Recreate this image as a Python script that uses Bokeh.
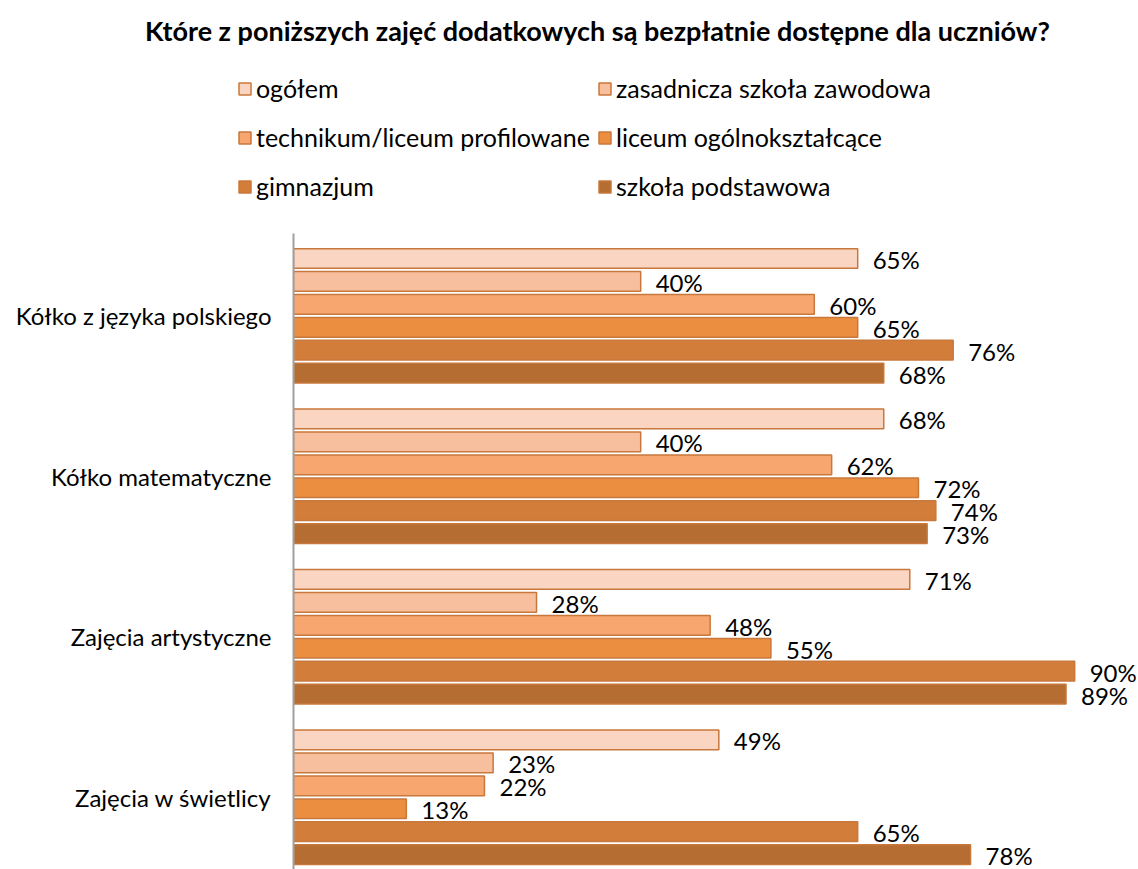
from bokeh.plotting import figure
from bokeh.models import ColumnDataSource, Range1d, FixedTicker, Legend, LegendItem, Label
from bokeh.layouts import column
from bokeh.embed import file_html
from bokeh.resources import INLINE

title = "Które z poniższych zajęć dodatkowych są bezpłatnie dostępne dla uczniów?"
categories = ["Kółko z języka polskiego", "Kółko matematyczne", "Zajęcia artystyczne", "Zajęcia w świetlicy"]
series = ["ogółem", "zasadnicza szkoła zawodowa", "technikum/liceum profilowane",
          "liceum ogólnokształcące", "gimnazjum", "szkoła podstawowa"]
colors = ["#F9D5C2", "#F8BF9F", "#F7A66F", "#EB8E40", "#D27D3A", "#B56D31"]

ogolem = [65, 68, 71, 49]
zasadnicza = [40, 40, 28, 23]
technikum = [60, 62, 48, 22]
liceum = [65, 72, 55, 13]
gimnazjum = [76, 74, 90, 65]
podstawowa = [68, 73, 89, 78]
values = [ogolem, zasadnicza, technikum, liceum, gimnazjum, podstawowa]

FONT = "Lato"
FS = "24px"
OUTLINE = "#C8783C"
W = 1138
HEAD_H = 232

# ---- header: title + legend ----
h = figure(width=W, height=HEAD_H, output_backend="svg", toolbar_location=None,
           x_range=Range1d(0, W), y_range=Range1d(HEAD_H, 0),
           x_axis_location=None, y_axis_location=None,
           min_border_left=0, min_border_right=0, min_border_top=0, min_border_bottom=0)
h.frame_align = False
h.outline_line_color = None
h.xgrid.visible = False
h.ygrid.visible = False
nan = float("nan")
dummy = []
for col in colors:
    dummy.append(h.hbar(y=[nan], right=[nan], left=0, height=1, fill_color=col,
                        line_color=OUTLINE, line_width=1.5))

def make_legend(idx, loc):
    lg = Legend(items=[LegendItem(label=series[k], renderers=[dummy[k]]) for k in idx],
                location=loc, orientation="vertical", padding=0, margin=0, spacing=19,
                glyph_width=15, glyph_height=15, label_standoff=4, label_height=22,
                label_text_font_size="25px", label_text_font=FONT, label_text_color="black",
                border_line_color=None, background_fill_alpha=0)
    h.add_layout(lg, "center")

make_legend([0, 2, 4], (237, 31))
make_legend([1, 3, 5], (597, 31))

h.add_layout(Label(x=597, y=30, text=title, text_align="center", text_baseline="middle",
                   text_font_size="27px", text_font_style="bold", text_font=FONT,
                   text_color="black"))

# ---- main chart ----
p = figure(width=W, height=637, output_backend="svg", toolbar_location=None,
           x_range=Range1d(0, 97.35), y_range=Range1d(26.65, -1.09),
           x_axis_location=None, min_border_left=293, min_border_right=0,
           min_border_top=1, min_border_bottom=0)
p.frame_align = False
p.outline_line_color = None
p.xgrid.visible = False
p.ygrid.visible = False

for j, (name, vals, col) in enumerate(zip(series, values, colors)):
    ys = [i * 7 + j for i in range(len(categories))]
    src = ColumnDataSource(dict(y=ys, x=vals, lab=[f"{v}%" for v in vals]))
    p.hbar(y="y", right="x", left=0, height=0.86, source=src,
           fill_color=col, line_color=OUTLINE, line_width=1.5)
    p.text(x="x", y="y", text="lab", source=src, x_offset=15, y_offset=1,
           text_baseline="middle", text_align="left", text_font_size=FS,
           text_font={"value": FONT}, text_color="black")

ax = p.yaxis[0]
ax.ticker = FixedTicker(ticks=[i * 7 + 2.5 for i in range(len(categories))])
ax.major_label_overrides = {i * 7 + 2.5: c for i, c in enumerate(categories)}
ax.major_tick_out = 0
ax.major_tick_in = 0
ax.minor_tick_out = 0
ax.minor_tick_in = 0
ax.axis_line_color = "#A0A0A0"
ax.axis_line_width = 2
ax.major_label_standoff = 22
ax.major_label_text_font_size = FS
ax.major_label_text_font = FONT
ax.major_label_text_color = "black"

layout = column(h, p, spacing=0)
open("out.html", "w").write(file_html(layout, INLINE))
